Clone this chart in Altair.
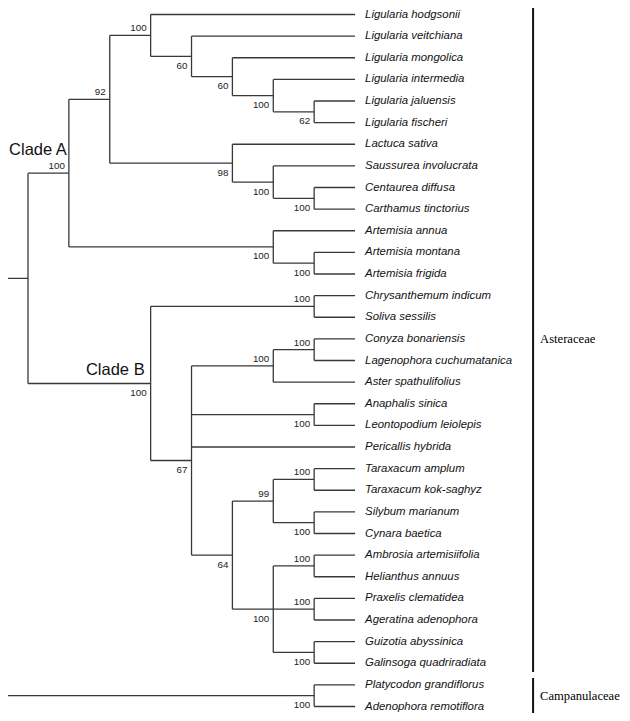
import altair as alt
import pandas as pd

# ---------------- data ----------------
TAXA = [
    "Ligularia hodgsonii", "Ligularia veitchiana", "Ligularia mongolica",
    "Ligularia intermedia", "Ligularia jaluensis", "Ligularia fischeri",
    "Lactuca sativa", "Saussurea involucrata", "Centaurea diffusa",
    "Carthamus tinctorius", "Artemisia annua", "Artemisia montana",
    "Artemisia frigida", "Chrysanthemum indicum", "Soliva sessilis",
    "Conyza bonariensis", "Lagenophora cuchumatanica", "Aster spathulifolius",
    "Anaphalis sinica", "Leontopodium leiolepis", "Pericallis hybrida",
    "Taraxacum amplum", "Taraxacum kok-saghyz", "Silybum marianum",
    "Cynara baetica", "Ambrosia artemisiifolia", "Helianthus annuus",
    "Praxelis clematidea", "Ageratina adenophora", "Guizotia abyssinica",
    "Galinsoga quadriradiata", "Platycodon grandiflorus", "Adenophora remotiflora",
]

# topology: (bootstrap, [children], optional clade name); ints are leaf indices
TREE = ("", [
    ("", [
        ("100", [
            ("92", [
                ("100", [0, ("60", [1, ("60", [2, ("100", [3, ("62", [4, 5])])])])]),
                ("98", [6, ("100", [7, ("100", [8, 9])])]),
            ]),
            ("100", [10, ("100", [11, 12])]),
        ], "Clade A"),
        ("100", [
            ("100", [13, 14]),
            ("67", [
                ("100", [("100", [15, 16]), 17]),
                ("100", [18, 19]),
                20,
                ("64", [
                    ("99", [("100", [21, 22]), ("100", [23, 24])]),
                    ("100", [("100", [25, 26]), ("100", [27, 28]), ("100", [29, 30])]),
                ]),
            ]),
        ], "Clade B"),
    ]),
    ("100", [31, 32]),
])

FAMILIES = ["Asteraceae", "Campanulaceae"]
FAMILY_FIRST = [0, 31]
FAMILY_LAST = [30, 32]

# ---------------- layout from topology ----------------
LEAF_DEPTH = 8


def build(node):
    if isinstance(node, int):
        return {"d": LEAF_DEPTH, "y": float(node), "kids": [], "boot": "", "clade": None}
    kids = [build(k) for k in node[1]]
    return {
        "d": min(k["d"] for k in kids) - 1,
        "y": (kids[0]["y"] + kids[-1]["y"]) / 2,
        "kids": kids,
        "boot": node[0],
        "clade": node[2] if len(node) > 2 else None,
    }


segs, boots, clades = [], [], []


def emit(n, parent=None, first=False):
    if parent is not None:
        segs.append({"x": parent["d"], "x2": n["d"], "y": n["y"], "y2": n["y"]})
    if n["kids"]:
        segs.append({"x": n["d"], "x2": n["d"], "y": n["kids"][0]["y"], "y2": n["kids"][-1]["y"]})
        for i, k in enumerate(n["kids"]):
            emit(k, n, i == 0)
    if n["boot"]:
        above = first or (parent is not None and n["y"] == parent["y"])
        boots.append({"x": n["d"], "y": n["y"], "label": n["boot"],
                      "side": "above" if above else "below"})
    if n["clade"]:
        clades.append({"x": n["d"], "y": n["y"], "label": n["clade"]})


emit(build(TREE))

seg_df = pd.DataFrame(segs)
boot_df = pd.DataFrame(boots)
clade_df = pd.DataFrame(clades)
leaf_df = pd.DataFrame({"name": TAXA, "y": list(range(len(TAXA))), "x": LEAF_DEPTH})
fam_df = pd.DataFrame({"family": FAMILIES, "first": FAMILY_FIRST, "last": FAMILY_LAST})

# ---------------- chart ----------------
XS = alt.Scale(domain=[-0.489, 14.53], nice=False, zero=False)
YS = alt.Scale(domain=[-0.3006, 32.30], nice=False, zero=False, reverse=True)
BAR_DEPTH = 12.355
LINE = "#383838"

x_q = lambda f: alt.X(f, type="quantitative", scale=XS, axis=None)
y_q = lambda f: alt.Y(f, type="quantitative", scale=YS, axis=None)

branches = alt.Chart(seg_df).mark_rule(color=LINE, strokeWidth=1.3, clip=True).encode(
    x=x_q("x"), x2="x2", y=y_q("y"), y2="y2"
)

boot_above = alt.Chart(boot_df).transform_filter(alt.datum.side == "above").mark_text(
    align="right", baseline="middle", dx=-4, dy=-7, fontSize=9.8,
    font="Liberation Sans", color="#222222"
).encode(x=x_q("x"), y=y_q("y"), text="label:N")

boot_below = alt.Chart(boot_df).transform_filter(alt.datum.side == "below").mark_text(
    align="right", baseline="middle", dx=-4, dy=9.5, fontSize=9.8,
    font="Liberation Sans", color="#222222"
).encode(x=x_q("x"), y=y_q("y"), text="label:N")

leaf_text = alt.Chart(leaf_df).mark_text(
    align="left", baseline="middle", dx=10, fontSize=11.4, fontStyle="italic",
    font="Liberation Sans", color="#111111"
).encode(x=x_q("x"), y=y_q("y"), text="name:N")

clade_a = alt.Chart(clade_df).transform_filter(alt.datum.label == "Clade A").mark_text(
    align="right", baseline="middle", dx=-2, dy=-23, fontSize=16.5,
    font="Liberation Sans", color="#111111"
).encode(x=x_q("x"), y=y_q("y"), text="label:N")

clade_b = alt.Chart(clade_df).transform_filter(alt.datum.label == "Clade B").mark_text(
    align="right", baseline="middle", dx=-6, dy=-13.5, fontSize=16.5,
    font="Liberation Sans", color="#111111"
).encode(x=x_q("x"), y=y_q("y"), text="label:N")

fam_bars = alt.Chart(fam_df).transform_calculate(
    top="datum.first - 0.32", bottom="datum.last + 0.4"
).mark_rule(color="#111111", strokeWidth=2).encode(
    x=alt.X(datum=BAR_DEPTH, type="quantitative", scale=XS, axis=None),
    y=y_q("top"), y2="bottom:Q"
)

fam_text = alt.Chart(fam_df).transform_calculate(
    mid="(datum.first + datum.last) / 2"
).mark_text(
    align="left", baseline="middle", dx=7, fontSize=12.6,
    font="Liberation Serif", color="#000000"
).encode(
    x=alt.X(datum=BAR_DEPTH, type="quantitative", scale=XS, axis=None),
    y=y_q("mid"), text="family:N"
)

chart = alt.layer(
    branches, boot_above, boot_below, leaf_text, clade_a, clade_b, fam_bars, fam_text
).properties(
    width=614, height=705, padding=0, autosize="none", background="white"
).configure_view(stroke=None)

chart.save("out.html", embed_options={"renderer": "svg", "actions": False})
